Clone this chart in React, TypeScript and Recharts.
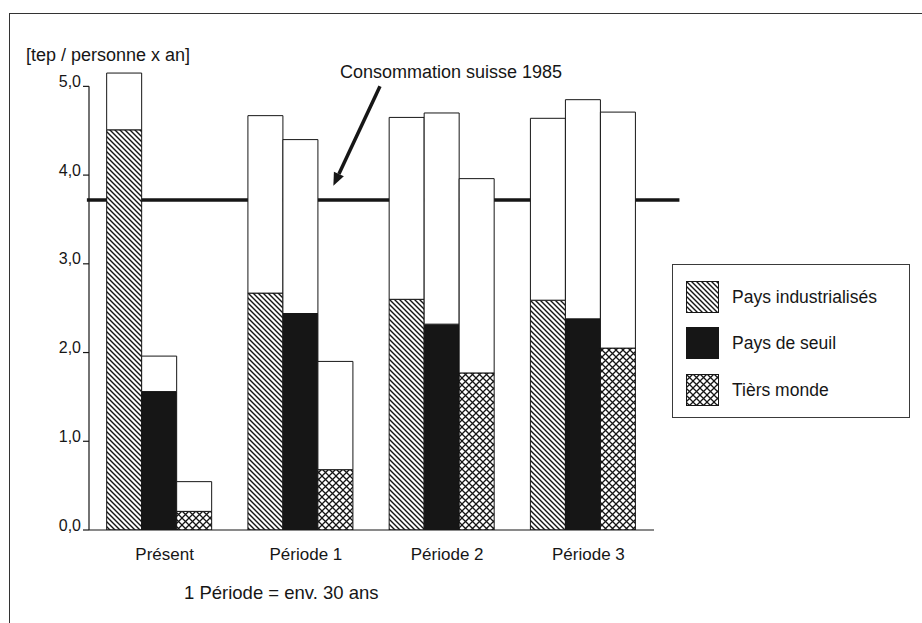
import React from 'react';
import { BarChart, Bar, XAxis, YAxis, ReferenceLine, Legend } from 'recharts';

const categories = ['Présent', 'Période 1', 'Période 2', 'Période 3'];
const industrialisesBase = [4.51, 2.67, 2.6, 2.59];
const industrialisesTotal = [5.15, 4.67, 4.65, 4.64];
const seuilBase = [1.56, 2.44, 2.32, 2.38];
const seuilTotal = [1.96, 4.4, 4.7, 4.85];
const tiersBase = [0.21, 0.68, 1.77, 2.05];
const tiersTotal = [0.545, 1.9, 3.96, 4.71];
const yTicks = [0, 1, 2, 3, 4, 5];
const swissConsumption = 3.72;
const swissLineSpan = [-0.015, 4.18];
const arrowFrom = { x: 2.06, y: 5.0 };
const arrowTo = { x: 1.73, y: 3.88 };
const seriesNames = ['Pays industrialisés', 'Pays de seuil', 'Tièrs monde'];
const annotationText = 'Consommation suisse 1985';
const yAxisLabel = '[tep / personne x an]';
const footnote = '1 Période = env. 30 ans';

const data = categories.map((name, i) => ({
  name,
  slot: i,
  indBase: industrialisesBase[i],
  indTop: +(industrialisesTotal[i] - industrialisesBase[i]).toFixed(3),
  seuBase: seuilBase[i],
  seuTop: +(seuilTotal[i] - seuilBase[i]).toFixed(3),
  tieBase: tiersBase[i],
  tieTop: +(tiersTotal[i] - tiersBase[i]).toFixed(3),
}));

const FONT = '"Liberation Sans", Arial, Helvetica, sans-serif';
const INK = '#161616';

const PatternDefs = ({ prefix }: { prefix: string }) => (
  <defs>
    <pattern id={`${prefix}hatch`} patternUnits="userSpaceOnUse" width={5} height={5}>
      <rect width={5} height={5} fill="#fff" />
      <path d="M-1,-1 L6,6 M-1,4 L1,6 M4,-1 L6,1" stroke={INK} strokeWidth={1.4} />
    </pattern>
    <pattern id={`${prefix}cross`} patternUnits="userSpaceOnUse" width={7} height={7}>
      <rect width={7} height={7} fill="#fff" />
      <path d="M-1,-1 L8,8 M8,-1 L-1,8" stroke={INK} strokeWidth={1.3} />
    </pattern>
  </defs>
);

const YTick = (props: any) => {
  const { x, y, payload } = props;
  return (
    <text x={x} y={y} dy={-5} textAnchor="end" dominantBaseline="central" fontSize={16} fontFamily={FONT} fill={INK}>
      {Number(payload.value).toFixed(1).replace('.', ',')}
    </text>
  );
};

const XTick = (props: any) => {
  const { x, y, payload } = props;
  return (
    <text x={x + 5} y={y} dy={16} textAnchor="middle" dominantBaseline="central" fontSize={17} fontFamily={FONT} fill={INK}>
      {payload.value}
    </text>
  );
};

const ArrowShape = (props: any) => {
  const { x1, y1, x2, y2 } = props;
  if ([x1, y1, x2, y2].some((v) => v == null || isNaN(v))) return <g />;
  const ang = Math.atan2(y2 - y1, x2 - x1);
  const headLen = 13;
  const headW = 5.5;
  const bx = x2 - headLen * Math.cos(ang);
  const by = y2 - headLen * Math.sin(ang);
  const px = -Math.sin(ang) * headW;
  const py = Math.cos(ang) * headW;
  return (
    <g>
      <line x1={x1} y1={y1} x2={bx} y2={by} stroke={INK} strokeWidth={3.5} />
      <polygon points={`${x2},${y2} ${bx + px},${by + py} ${bx - px},${by - py}`} fill={INK} />
      <text x={x1 + 71} y={y1 - 14} textAnchor="middle" dominantBaseline="central" fontSize={18} fontFamily={FONT} fill={INK}>
        {annotationText}
      </text>
    </g>
  );
};

const LegendContent = () => {
  const fills = ['url(#lghatch)', INK, 'url(#lgcross)'];
  const tops = [17, 63, 110];
  return (
    <div
      style={{
        position: 'relative',
        width: 238,
        height: 154,
        boxSizing: 'border-box',
        border: '1.2px solid #3a3a3a',
        background: '#fff',
        fontFamily: FONT,
      }}
    >
      <svg width={0} height={0} style={{ position: 'absolute' }}>
        <PatternDefs prefix="lg" />
      </svg>
      {seriesNames.map((n, i) => (
        <div key={n}>
          <svg width={33} height={32} style={{ position: 'absolute', left: 13, top: tops[i] - 1 }}>
            <rect x={0.5} y={0.5} width={32} height={31} fill={fills[i]} stroke={INK} strokeWidth={1} />
          </svg>
          <div
            style={{
              position: 'absolute',
              left: 59,
              top: tops[i] + 5,
              lineHeight: '20px',
              fontSize: 17.5,
              color: INK,
              whiteSpace: 'nowrap',
            }}
          >
            {n}
          </div>
        </div>
      ))}
    </div>
  );
};

export default function App() {
  return (
    <div style={{ position: 'absolute', left: 0, top: 0, width: 922, height: 623, overflow: 'hidden', background: '#fff' }}>
      <div
        style={{
          position: 'absolute',
          left: 9,
          top: 13,
          width: 1200,
          height: 1200,
          border: '1.6px solid #333',
        }}
      />
      <div style={{ position: 'absolute', left: 0, top: 0 }}>
        <BarChart
          width={922}
          height={623}
          data={data}
          margin={{ top: 42, right: 268, bottom: 63, left: 29 }}
          barCategoryGap="12.5%"
          barGap={0}
        >
          <PatternDefs prefix="" />
          <XAxis
            dataKey="name"
            height={30}
            axisLine={{ stroke: INK, strokeWidth: 1.2 }}
            tickLine={false}
            tick={<XTick />}
            interval={0}
          />
          <XAxis xAxisId="pos" dataKey="slot" type="number" domain={[0, 4]} ticks={[0, 1, 2, 3, 4]} hide />
          <YAxis
            width={60}
            domain={[0, 5.5]}
            ticks={yTicks}
            allowDataOverflow
            axisLine={false}
            tickLine={{ stroke: INK, strokeWidth: 1.2 }}
            tickSize={6}
            tick={<YTick />}
            interval={0}
          />
          <ReferenceLine
            xAxisId="pos"
            segment={[
              { x: swissLineSpan[0], y: swissConsumption },
              { x: swissLineSpan[1], y: swissConsumption },
            ]}
            stroke={INK}
            strokeWidth={3.5}
            ifOverflow="visible"
            zIndex={50}
          />
          <ReferenceLine
            xAxisId="pos"
            segment={[
              { x: 0, y: 0 },
              { x: 0, y: 5 },
            ]}
            stroke={INK}
            strokeWidth={1.2}
            ifOverflow="visible"
          />
          <Bar dataKey="indBase" stackId="ind" fill="url(#hatch)" stroke={INK} strokeWidth={1} isAnimationActive={false} />
          <Bar dataKey="indTop" stackId="ind" fill="#fff" stroke={INK} strokeWidth={1} isAnimationActive={false} />
          <Bar dataKey="seuBase" stackId="seu" fill={INK} stroke={INK} strokeWidth={1} isAnimationActive={false} />
          <Bar dataKey="seuTop" stackId="seu" fill="#fff" stroke={INK} strokeWidth={1} isAnimationActive={false} />
          <Bar dataKey="tieBase" stackId="tie" fill="url(#cross)" stroke={INK} strokeWidth={1} isAnimationActive={false} />
          <Bar dataKey="tieTop" stackId="tie" fill="#fff" stroke={INK} strokeWidth={1} isAnimationActive={false} />
          <ReferenceLine
            xAxisId="pos"
            segment={[arrowFrom, arrowTo]}
            ifOverflow="visible"
            shape={<ArrowShape />}
          />
          <Legend
            layout="horizontal"
            verticalAlign="middle"
            align="center"
            width={238}
            height={154}
            wrapperStyle={{ left: 672, top: 264, width: 238, height: 154 }}
            content={<LegendContent />}
          />
        </BarChart>
      </div>
      <div
        style={{
          position: 'absolute',
          left: 26,
          top: 45,
          lineHeight: '20px',
          fontSize: 18,
          fontFamily: FONT,
          color: INK,
          whiteSpace: 'nowrap',
        }}
      >
        {yAxisLabel}
      </div>
      <div
        style={{
          position: 'absolute',
          left: 184,
          top: 583,
          lineHeight: '20px',
          fontSize: 18.5,
          fontFamily: FONT,
          color: INK,
          whiteSpace: 'nowrap',
        }}
      >
        {footnote}
      </div>
    </div>
  );
}
